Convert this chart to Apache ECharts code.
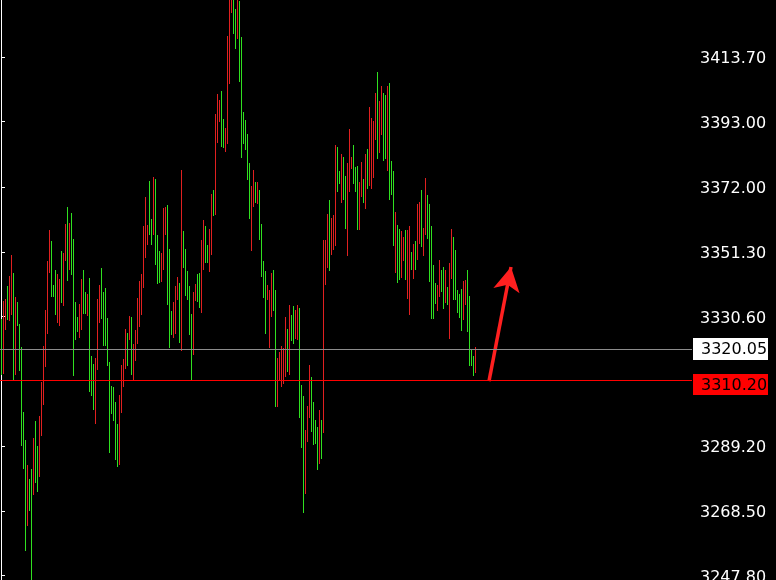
<!DOCTYPE html>
<html><head><meta charset="utf-8">
<style>html,body{margin:0;padding:0;background:#000;}#chart{width:776px;height:580px;}</style>
<script src="https://cdn.jsdelivr.net/npm/echarts@6/dist/echarts.min.js"></script>
</head><body><div id="chart"></div>
<script>
// Bar highs (price), one per bar
const highs = [
3329.8,3335.5,3336.2,3340.3,3343.5,3350.5,3344.5,3336.8,3335.2,3328.2,
3320.9,3300.1,3291.2,3283.2,3278.8,3281.9,3291.8,3297.3,3289.3,3298.8,
3309.7,3321.2,3332.7,3348.3,3358.2,3354.7,3340.6,3345.4,3344.2,3342.6,
3351.5,3350.9,3360.4,3365.8,3360.7,3363.9,3355.6,3335.2,3330.4,3334.6,
3342.6,3345.4,3338.4,3337.8,3342.9,3318.0,3315.4,3317.4,3336.2,3340.6,
3346.1,3338.4,3339.7,3330.1,3316.1,3308.4,3308.1,3303.3,3296.3,3305.5,
3315.1,3317.0,3326.6,3325.3,3330.8,3330.4,3321.8,3326.3,3336.5,3341.9,
3344.2,3359.5,3369.0,3360.1,3374.1,3362.0,3375.4,3374.8,3356.6,3351.5,
3350.9,3365.5,3365.8,3366.5,3352.4,3332.3,3335.2,3340.3,3343.2,3341.3,
3377.6,3357.9,3352.4,3345.1,3340.3,3331.4,3338.4,3341.0,3344.2,3344.5,
3355.3,3361.4,3359.5,3353.7,3358.8,3370.0,3371.0,3395.5,3401.9,3400.0,
3402.9,3393.9,3391.0,3420.4,3434.0,3436.0,3435.0,3429.0,3434.0,3431.6,
3420.1,3396.2,3393.6,3389.1,3379.9,3372.5,3377.6,3373.8,3373.8,3371.3,
3360.4,3348.3,3345.1,3340.6,3339.0,3344.5,3345.7,3339.0,3317.4,3319.3,
3321.2,3320.5,3330.4,3326.6,3334.3,3331.1,3333.9,3332.7,3334.3,3333.3,
3308.7,3305.2,3294.4,3302.0,3315.1,3311.3,3303.3,3297.6,3295.3,3300.8,
3297.6,3355.0,3355.3,3363.6,3367.8,3362.3,3363.0,3385.6,3385.0,3377.3,
3382.8,3381.8,3375.7,3379.9,3390.7,3381.8,3385.6,3378.6,3378.9,3373.8,
3380.2,3374.8,3382.8,3384.3,3397.7,3394.2,3393.3,3402.2,3408.9,3399.7,
3404.4,3402.2,3401.6,3404.4,3405.4,3380.5,3377.3,3364.2,3359.8,3358.8,
3357.9,3356.0,3358.5,3358.5,3359.5,3351.2,3354.0,3354.7,3366.8,3367.4,
3371.0,3359.1,3375.1,3369.7,3366.8,3359.5,3347.0,3341.3,3340.6,3348.9,
3345.7,3346.4,3345.4,3340.0,3347.7,3358.8,3356.0,3351.8,3339.0,3337.8,
3339.4,3341.9,3342.2,3345.7,3337.1,3320.2,3318.0,3320.9
];
// Bar lows (price)
const lows = [
3311.9,3312.2,3326.3,3329.5,3329.2,3331.1,3310.0,3311.9,3327.6,3313.2,
3289.3,3281.9,3255.8,3263.8,3268.5,3246.0,3273.6,3277.5,3274.6,3279.4,
3292.5,3302.4,3314.5,3325.0,3344.5,3336.8,3336.8,3331.1,3328.5,3327.6,
3334.9,3333.9,3348.3,3341.9,3345.4,3343.8,3311.6,3323.1,3325.6,3323.7,
3326.3,3331.4,3331.4,3330.8,3306.5,3305.2,3300.8,3296.3,3313.5,3328.5,
3329.8,3321.2,3321.2,3314.8,3287.0,3299.5,3297.3,3284.8,3282.6,3283.2,
3299.8,3308.1,3313.8,3314.8,3323.1,3311.9,3310.0,3316.4,3321.8,3327.2,
3331.1,3339.7,3349.3,3353.4,3356.9,3353.7,3356.6,3347.3,3341.0,3341.3,
3341.6,3345.7,3356.6,3334.3,3320.5,3324.7,3323.7,3325.0,3335.9,3322.1,
3319.6,3346.1,3337.1,3335.9,3324.7,3310.0,3318.3,3335.5,3335.2,3333.3,
3331.7,3345.7,3347.7,3347.7,3344.8,3350.5,3362.7,3363.0,3386.3,3393.0,
3385.0,3384.7,3383.4,3385.9,3405.1,3427.7,3421.0,3416.3,3419.4,3405.7,
3381.5,3385.9,3384.0,3374.5,3362.0,3351.5,3365.8,3367.1,3366.8,3355.3,
3343.2,3336.5,3325.0,3335.9,3320.5,3330.4,3332.3,3301.7,3301.7,3310.0,
3308.1,3309.1,3311.3,3312.9,3311.9,3322.8,3321.8,3323.4,3323.1,3298.2,
3288.6,3267.9,3274.0,3290.6,3298.2,3293.7,3289.6,3289.9,3281.6,3283.5,
3285.1,3293.4,3340.6,3346.1,3345.1,3350.2,3351.8,3353.1,3370.6,3373.2,
3367.1,3367.8,3358.8,3349.9,3370.6,3378.0,3373.2,3370.6,3358.2,3358.2,
3369.0,3367.1,3365.2,3371.6,3372.5,3371.6,3375.1,3387.2,3381.2,3383.1,
3388.8,3380.5,3381.2,3377.3,3367.8,3369.7,3353.1,3344.5,3341.3,3342.2,
3342.9,3348.3,3342.2,3336.2,3331.1,3345.4,3342.6,3345.7,3348.9,3354.0,
3352.8,3349.9,3356.6,3355.6,3341.6,3329.8,3329.8,3334.6,3332.3,3336.8,
3338.4,3333.0,3334.9,3334.3,3323.4,3342.6,3335.9,3335.9,3331.7,3330.1,
3326.0,3329.5,3334.3,3325.6,3314.8,3314.8,3311.6,3312.6
];
// Bar direction: 1 = up bar, -1 = down bar
const dirs = [
1,-1,-1,1,-1,-1,1,-1,1,1,
1,1,1,-1,1,1,-1,1,1,-1,
-1,-1,-1,-1,-1,1,1,1,-1,-1,
1,-1,-1,1,-1,1,1,1,1,-1,
-1,1,1,-1,1,1,1,-1,-1,-1,
1,1,1,1,1,1,1,1,1,-1,
-1,-1,-1,1,-1,1,-1,-1,-1,-1,
-1,-1,-1,-1,1,1,-1,1,1,1,
-1,-1,-1,1,1,1,-1,-1,-1,1,
-1,1,1,1,1,1,-1,-1,1,1,
-1,-1,1,1,-1,-1,1,-1,-1,-1,
1,1,-1,-1,-1,-1,1,1,-1,1,
1,1,1,1,1,-1,-1,1,-1,1,
1,1,1,-1,-1,-1,1,1,-1,-1,
-1,-1,-1,1,-1,1,1,-1,-1,1,
1,1,-1,-1,-1,1,1,1,1,-1,
1,-1,-1,-1,1,-1,-1,-1,1,1,
-1,1,1,-1,-1,-1,1,1,1,-1,
-1,1,-1,1,-1,-1,-1,-1,1,-1,
-1,1,1,-1,1,1,1,-1,1,1,
-1,-1,1,-1,-1,1,-1,1,-1,-1,
1,-1,-1,1,1,1,1,1,-1,-1,
1,1,-1,1,-1,-1,1,1,1,1,
1,-1,-1,1,1,1,1,-1
];
const yTicks = [3247.80, 3268.50, 3289.20, 3330.60, 3351.30, 3372.00, 3393.00, 3413.70];
const bidPrice = 3320.05;
const levelPrice = 3310.20;
const arrowStart = [244, 3310.0];
const arrowTip = [255, 3346.5];
const slotCount = 346;     // visible bar slots across the chart
const yMin = 3246.37, yMax = 3431.94;

const GREEN = '#30e020', RED = '#e02020';
const barData = highs.map((h, i) => [i, lows[i], h, dirs[i]]);

const chart = echarts.init(document.getElementById('chart'), null, {renderer: 'canvas'});
chart.setOption({
  backgroundColor: '#000',
  animation: false,
  grid: {left: 0, right: 84, top: 0, bottom: 0, containLabel: false, outerBoundsMode: 'none'},
  xAxis: {type: 'value', min: -0.5, max: slotCount - 0.5, show: false},
  yAxis: {
    type: 'value', position: 'right', min: yMin, max: yMax, scale: true,
    axisLine: {show: true, lineStyle: {color: '#ffffff', width: 1}},
    axisTick: {show: true, length: 4, lineStyle: {color: '#ffffff'}, customValues: yTicks},
    axisLabel: {color: '#ffffff', fontSize: 16, fontFamily: 'DejaVu Sans', margin: 8,
      customValues: yTicks, formatter: v => '{p|' + Number(v).toFixed(2) + '}',
      rich: {p: {color: '#ffffff', fontSize: 16, fontFamily: 'DejaVu Sans', padding: [4, 0, 0, 0]}}},
    splitLine: {show: false}
  },
  series: [{
    type: 'custom',
    clip: true,
    data: barData,
    encode: {x: 0, y: [1, 2]},
    renderItem: function (params, api) {
      const i = api.value(0);
      const top = api.coord([i, api.value(2)]);
      const bot = api.coord([i, api.value(1)]);
      const x = Math.round(top[0] - 0.5);
      const y1 = Math.round(top[1]);
      const y2 = Math.round(bot[1]);
      return {type: 'rect', shape: {x: x, y: y1, width: 1, height: Math.max(1, y2 - y1)},
        style: {fill: api.value(3) > 0 ? GREEN : RED}};
    },
    markLine: {
      silent: true,
      animation: false,
      symbol: ['none', 'none'],
      label: {show: false},
      data: [
        [
          {coord: arrowStart, symbol: 'none', lineStyle: {color: '#ff2020', width: 3.5, type: 'solid'}},
          {coord: arrowTip, symbol: 'arrow', symbolSize: [20, 24]}
        ]
      ]
    }
  }]
});

const yBid = Math.floor(chart.convertToPixel({yAxisIndex: 0}, bidPrice));
const yLvl = Math.floor(chart.convertToPixel({yAxisIndex: 0}, levelPrice));
const xEdge = Math.round(chart.convertToPixel({xAxisIndex: 0}, slotCount - 0.5));
chart.setOption({
  graphic: [
    {type: 'line', shape: {x1: 0, y1: yBid + 0.5, x2: xEdge, y2: yBid + 0.5}, style: {stroke: '#8c8c8c', lineWidth: 1}, z: 90},
    {type: 'line', shape: {x1: 0, y1: yLvl + 0.5, x2: xEdge, y2: yLvl + 0.5}, style: {stroke: '#ff0000', lineWidth: 1}, z: 90},
    {type: 'rect', shape: {x: xEdge + 1, y: yBid - 11, width: 75, height: 22}, style: {fill: '#ffffff'}, z: 100},
    {type: 'text', x: xEdge + 9, y: yBid + 1, z: 101,
      style: {text: bidPrice.toFixed(2), fill: '#000000', fontSize: 16, fontFamily: 'DejaVu Sans', verticalAlign: 'middle', align: 'left'}},
    {type: 'rect', shape: {x: xEdge + 1, y: yLvl - 6, width: 75, height: 21}, style: {fill: '#ff0000'}, z: 100},
    {type: 'text', x: xEdge + 9, y: yLvl + 6, z: 101,
      style: {text: levelPrice.toFixed(2), fill: '#000000', fontSize: 16, fontFamily: 'DejaVu Sans', verticalAlign: 'middle', align: 'left'}}
  ]
});
</script></body></html>
